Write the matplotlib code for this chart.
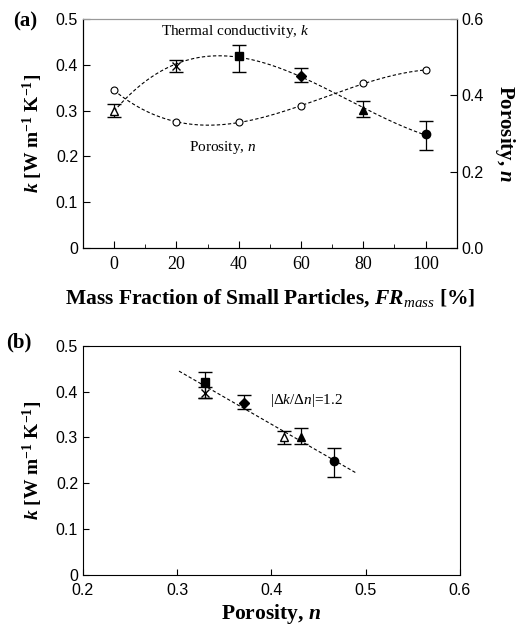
import matplotlib
matplotlib.use("Agg")
import matplotlib.pyplot as plt
from matplotlib.ticker import MultipleLocator, FormatStrFormatter
import numpy as np

plt.rcParams['font.family'] = ['Liberation Sans', 'DejaVu Sans']
plt.rcParams['mathtext.fontset'] = 'custom'
plt.rcParams['mathtext.rm'] = 'Liberation Serif'
plt.rcParams['mathtext.it'] = 'Liberation Serif:italic'
plt.rcParams['mathtext.bf'] = 'Liberation Serif:bold'
plt.rcParams['mathtext.bfit'] = 'Liberation Serif:bold:italic'

# data
fr_mass = [0, 20, 40, 60, 80, 100]
k_val = [0.300, 0.397, 0.420, 0.376, 0.302, 0.248]
k_lo = [0.285, 0.385, 0.385, 0.362, 0.286, 0.213]
k_hi = [0.315, 0.410, 0.442, 0.393, 0.320, 0.278]
porosity = [0.413, 0.330, 0.330, 0.371, 0.431, 0.466]
markers = ['^', 'x', 's', 'D', '^', 'o']
filled = [False, True, True, True, True, True]
msizes = [6, 6, 6, 5, 6, 6]

serif = 'Liberation Serif'
k_label = r"$\mathbfit{k}$ [W m$^{\mathbf{-1}}$ K$^{\mathbf{-1}}$]"

fig = plt.figure(figsize=(5.28, 6.28), dpi=100)

# ---------- (a) ----------
ax = fig.add_axes([0.157, 0.605, 0.708, 0.365])
ax2 = ax.twinx()

xs = np.linspace(0, 100, 200)
ck = np.polyfit(fr_mass, k_val, 3)
cn = np.polyfit(fr_mass, porosity, 3)
ax.plot(xs, np.polyval(ck, xs), '--', color='black', lw=0.8, dashes=(3, 2))
ax2.plot(xs, np.polyval(cn, xs), '--', color='black', lw=0.8, dashes=(3, 2))
ax2.plot(fr_mass, porosity, 'o', mfc='white', mec='black', ms=5, mew=0.8)

for i in range(len(fr_mass)):
    err = [[k_val[i] - k_lo[i]], [k_hi[i] - k_val[i]]]
    ax.errorbar(fr_mass[i], k_val[i], yerr=err, fmt=markers[i], color='black',
                mfc='black' if filled[i] else 'white', mec='black',
                ms=msizes[i], ecolor='black', elinewidth=0.9, capsize=5, capthick=0.9,
                mew=1.0)

ax.set_xlim(-10, 110)
ax.set_ylim(0, 0.5)
ax2.set_ylim(0, 0.6)
ax.xaxis.set_major_locator(MultipleLocator(20))
ax.xaxis.set_minor_locator(MultipleLocator(10))
ax.yaxis.set_major_locator(MultipleLocator(0.1))
ax2.yaxis.set_major_locator(MultipleLocator(0.2))
ax.yaxis.set_major_formatter(lambda v, p: '0' if v == 0 else f'{v:.1f}')
ax2.yaxis.set_major_formatter(FormatStrFormatter('%.1f'))
ax.tick_params(direction='in', length=5, labelsize=11.5)
ax.tick_params(axis='x', which='minor', direction='in', length=3)
ax.tick_params(axis='x', labelsize=13, pad=6)
for lab in ax.get_xticklabels():
    lab.set_family(serif)
ax2.tick_params(direction='in', length=5, labelsize=11.5)
ax.spines['top'].set_color('#999999')
ax2.spines['top'].set_color('#999999')

ax.set_ylabel(k_label, family=serif, fontweight='bold', fontsize=14, labelpad=8)
ax2.set_ylabel(r"Porosity, $\mathbfit{n}$", family=serif, fontweight='bold',
               fontsize=15, rotation=-90, labelpad=24)
ax.set_xlabel(r"Mass Fraction of Small Particles, $\mathbfit{FR}_{\mathit{mass}}$ [%]",
              family=serif, fontweight='bold', fontsize=15.5, labelpad=10)

ax.text(39, 0.472, r"Thermal conductivity, $\mathit{k}$", family=serif, fontsize=11,
        ha='center', va='center')
ax.text(35, 0.219, r"Porosity, $\mathit{n}$", family=serif, fontsize=11,
        ha='center', va='center')
fig.text(0.047, 0.965, "(a)", family=serif, fontweight='bold', fontsize=15,
         ha='center', va='center')

# ---------- (b) ----------
bx = fig.add_axes([0.157, 0.0844, 0.714, 0.365])
cl = np.polyfit(porosity, k_val, 1)
xl = np.linspace(0.302, 0.49, 50)
bx.plot(xl, np.polyval(cl, xl), '--', color='black', lw=0.8, dashes=(3, 2))
for i in range(len(fr_mass)):
    err = [[k_val[i] - k_lo[i]], [k_hi[i] - k_val[i]]]
    bx.errorbar(porosity[i], k_val[i], yerr=err, fmt=markers[i], color='black',
                mfc='black' if filled[i] else 'white', mec='black',
                ms=msizes[i], ecolor='black', elinewidth=0.9, capsize=5, capthick=0.9,
                mew=1.0)
bx.set_xlim(0.2, 0.6)
bx.set_ylim(0, 0.5)
bx.xaxis.set_major_locator(MultipleLocator(0.1))
bx.yaxis.set_major_locator(MultipleLocator(0.1))
bx.yaxis.set_major_formatter(lambda v, p: '0' if v == 0 else f'{v:.1f}')
bx.tick_params(direction='in', length=4, labelsize=11.5)
bx.tick_params(axis='x', pad=6)
bx.set_ylabel(k_label, family=serif, fontweight='bold', fontsize=14, labelpad=8)
bx.set_xlabel(r"Porosity, $\mathbfit{n}$", family=serif, fontweight='bold',
              fontsize=15.5, labelpad=3)
bx.text(0.398, 0.38, r"|$\Delta\mathit{k}$/$\Delta\mathit{n}$|=1.2", family=serif,
        fontsize=11, ha='left', va='center')
fig.text(0.035, 0.455, "(b)", family=serif, fontweight='bold', fontsize=15,
         ha='center', va='center')

fig.savefig("out.png", dpi=100)
